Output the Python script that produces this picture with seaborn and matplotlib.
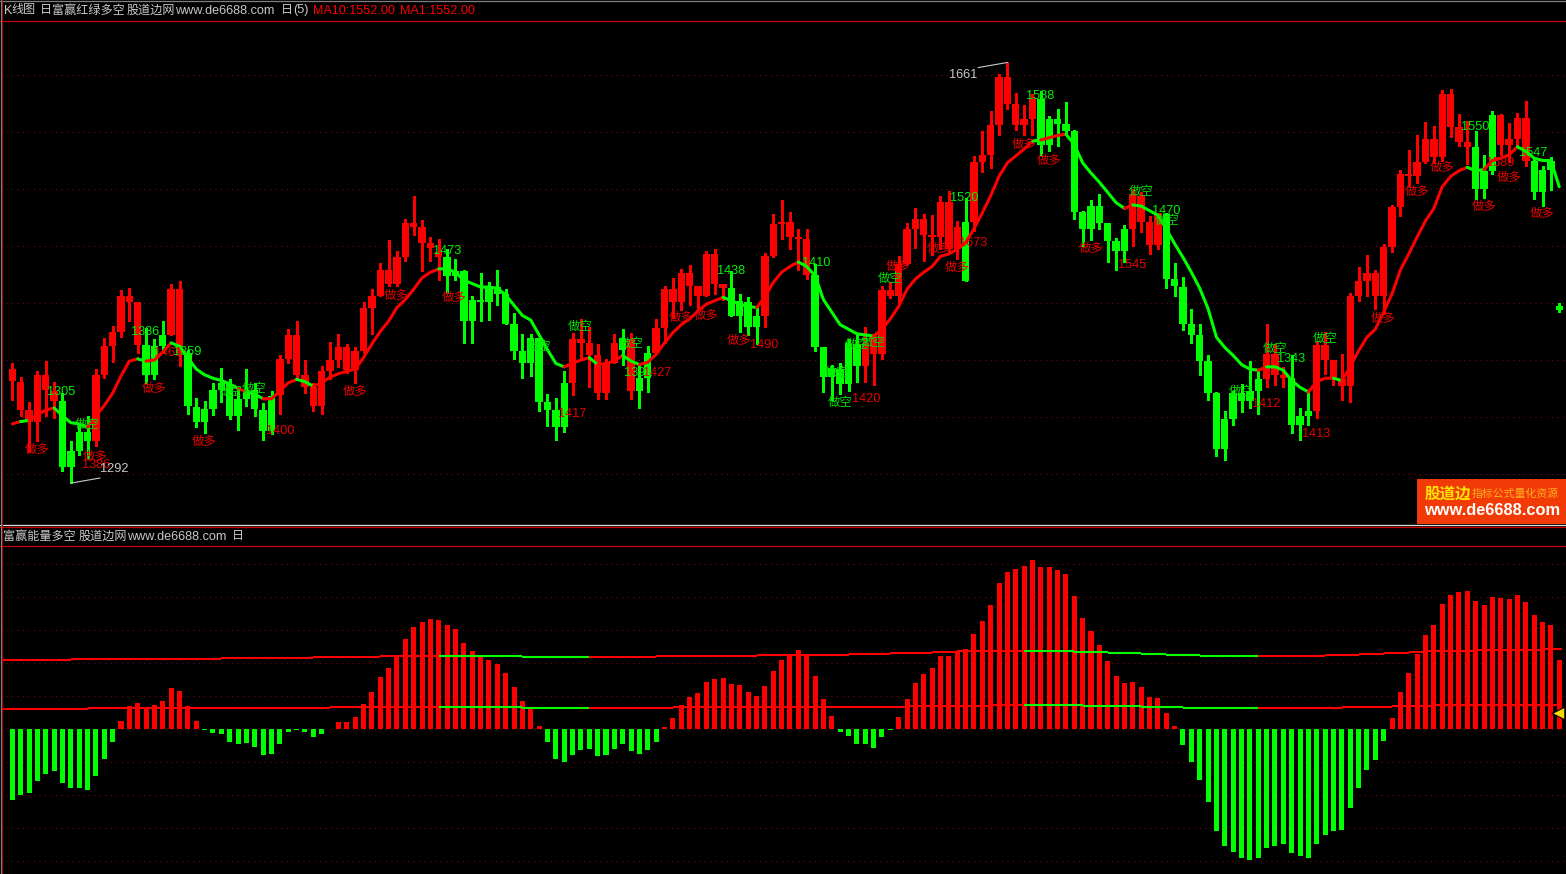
import matplotlib
matplotlib.use('Agg')
import matplotlib.pyplot as plt
from matplotlib.lines import Line2D
from matplotlib.patches import Rectangle
import numpy as np
import pandas as pd
import seaborn as sns

# candles (gridlines are 50 points apart)
body_top = [
    1392, 1381, 1356, 1387, 1387, 1373, 1364, 1320, 1337, 1337,
    1387, 1412, 1425, 1456, 1456, 1451, 1413, 1412, 1422, 1462,
    1462, 1406, 1359, 1357, 1374, 1380, 1379, 1366, 1374, 1374,
    1356, 1368, 1401, 1422, 1422, 1387, 1376, 1390, 1400, 1411,
    1411, 1408, 1446, 1456, 1479, 1479, 1490, 1520, 1520, 1517,
    1503, 1495, 1490, 1478, 1478, 1453, 1453, 1465, 1464, 1458,
    1432, 1408, 1419, 1419, 1363, 1356, 1380, 1418, 1418, 1415,
    1404, 1397, 1415, 1419, 1418, 1384, 1406, 1428, 1462, 1462,
    1476, 1476, 1465, 1493, 1493, 1467, 1463, 1452, 1451, 1439,
    1491, 1519, 1521, 1521, 1508, 1506, 1475, 1411, 1393, 1392,
    1415, 1414, 1415, 1422, 1461, 1461, 1484, 1515, 1524, 1524,
    1510, 1539, 1539, 1517, 1521, 1574, 1580, 1606, 1648, 1648,
    1625, 1611, 1630, 1629, 1611, 1611, 1607, 1601, 1530, 1535,
    1535, 1520, 1504, 1515, 1546, 1544, 1521, 1529, 1528, 1471,
    1464, 1432, 1422, 1399, 1371, 1348, 1371, 1371, 1373, 1383,
    1405, 1405, 1387, 1384, 1351, 1355, 1413, 1413, 1400, 1383,
    1456, 1469, 1476, 1476, 1499, 1534, 1563, 1563, 1574, 1594,
    1594, 1633, 1633, 1604, 1591, 1587, 1566, 1615, 1615, 1594,
    1612, 1612, 1575, 1567, 1575, 1447,
]
body_bottom = [
    1382, 1356, 1346, 1346, 1374, 1364, 1306, 1306, 1320, 1329,
    1329, 1387, 1412, 1425, 1451, 1413, 1387, 1387, 1412, 1422,
    1406, 1360, 1346, 1346, 1357, 1374, 1351, 1351, 1366, 1357,
    1338, 1338, 1369, 1401, 1387, 1376, 1360, 1360, 1390, 1400,
    1391, 1391, 1408, 1446, 1456, 1467, 1467, 1490, 1517, 1503,
    1498, 1490, 1474, 1474, 1434, 1434, 1451, 1451, 1458, 1432,
    1408, 1397, 1397, 1363, 1356, 1341, 1341, 1380, 1415, 1404,
    1371, 1371, 1397, 1409, 1373, 1373, 1384, 1406, 1428, 1451,
    1451, 1465, 1456, 1456, 1467, 1463, 1439, 1439, 1429, 1429,
    1439, 1491, 1519, 1508, 1506, 1475, 1411, 1385, 1385, 1379,
    1379, 1395, 1395, 1405, 1405, 1456, 1456, 1484, 1515, 1510,
    1508, 1508, 1497, 1497, 1469, 1521, 1574, 1580, 1606, 1625,
    1606, 1606, 1611, 1589, 1589, 1607, 1601, 1530, 1515, 1515,
    1520, 1504, 1496, 1496, 1515, 1521, 1501, 1501, 1471, 1465,
    1432, 1422, 1399, 1371, 1322, 1322, 1348, 1364, 1364, 1373,
    1383, 1387, 1384, 1343, 1343, 1351, 1355, 1400, 1383, 1377,
    1377, 1456, 1469, 1456, 1456, 1499, 1534, 1561, 1561, 1574,
    1578, 1578, 1604, 1591, 1587, 1550, 1550, 1566, 1589, 1589,
    1594, 1575, 1547, 1547, 1567, 1444,
]
high = [
    1397, 1385, 1363, 1390, 1399, 1381, 1371, 1329, 1345, 1351,
    1392, 1419, 1430, 1461, 1463, 1451, 1428, 1418, 1434, 1467,
    1469, 1409, 1367, 1364, 1380, 1393, 1383, 1374, 1392, 1380,
    1362, 1373, 1404, 1427, 1434, 1400, 1380, 1395, 1416, 1423,
    1414, 1411, 1451, 1462, 1485, 1505, 1496, 1524, 1544, 1523,
    1508, 1506, 1497, 1489, 1479, 1456, 1476, 1468, 1479, 1462,
    1441, 1423, 1423, 1419, 1370, 1367, 1390, 1424, 1436, 1429,
    1414, 1401, 1423, 1427, 1424, 1396, 1412, 1436, 1465, 1472,
    1480, 1483, 1465, 1496, 1497, 1467, 1478, 1458, 1455, 1447,
    1494, 1528, 1540, 1530, 1515, 1515, 1484, 1411, 1396, 1397,
    1418, 1423, 1429, 1423, 1465, 1468, 1491, 1520, 1533, 1528,
    1527, 1544, 1548, 1522, 1542, 1579, 1601, 1618, 1651, 1661,
    1634, 1624, 1633, 1636, 1614, 1620, 1626, 1602, 1531, 1540,
    1546, 1520, 1507, 1518, 1550, 1547, 1526, 1529, 1529, 1485,
    1473, 1445, 1432, 1404, 1372, 1355, 1373, 1379, 1399, 1391,
    1432, 1414, 1394, 1404, 1358, 1373, 1417, 1425, 1400, 1405,
    1459, 1482, 1492, 1479, 1502, 1536, 1567, 1584, 1597, 1609,
    1605, 1637, 1638, 1616, 1610, 1601, 1580, 1618, 1616, 1608,
    1617, 1627, 1578, 1570, 1578, 1450,
]
low = [
    1365, 1351, 1319, 1329, 1351, 1349, 1303, 1292, 1317, 1313,
    1325, 1384, 1398, 1420, 1434, 1406, 1380, 1383, 1406, 1422,
    1395, 1353, 1341, 1336, 1352, 1363, 1348, 1339, 1360, 1351,
    1330, 1335, 1353, 1397, 1383, 1371, 1355, 1353, 1383, 1394,
    1389, 1380, 1406, 1423, 1456, 1465, 1465, 1487, 1510, 1478,
    1487, 1470, 1459, 1470, 1415, 1415, 1434, 1435, 1448, 1432,
    1401, 1384, 1386, 1355, 1342, 1330, 1337, 1369, 1402, 1376,
    1366, 1366, 1397, 1396, 1366, 1358, 1372, 1406, 1415, 1437,
    1444, 1448, 1446, 1456, 1458, 1453, 1439, 1425, 1422, 1414,
    1429, 1490, 1506, 1497, 1479, 1471, 1408, 1372, 1365, 1370,
    1373, 1381, 1381, 1378, 1401, 1454, 1448, 1484, 1498, 1487,
    1492, 1497, 1495, 1489, 1469, 1513, 1565, 1568, 1597, 1620,
    1602, 1597, 1597, 1580, 1583, 1588, 1599, 1524, 1500, 1505,
    1515, 1486, 1479, 1486, 1500, 1512, 1493, 1497, 1463, 1456,
    1426, 1415, 1387, 1365, 1316, 1312, 1343, 1354, 1358, 1353,
    1376, 1378, 1376, 1336, 1330, 1343, 1349, 1388, 1378, 1365,
    1363, 1452, 1456, 1445, 1441, 1495, 1526, 1553, 1555, 1573,
    1573, 1575, 1596, 1588, 1572, 1541, 1542, 1563, 1580, 1574,
    1586, 1570, 1541, 1535, 1549, 1442,
]
# (first, last) candle of each green run
green_candles = [(6, 9), (16, 18), (21, 31), (52, 66), (73, 73), (75, 76), (86, 89),
                 (96, 101), (114, 114), (123, 133), (138, 149), (153, 155),
                 (175, 177), (182, 185)]

ma_line = [
    1344, 1346, 1347, 1352, 1356, 1358, 1351, 1345, 1344, 1341,
    1351, 1360, 1371, 1386, 1399, 1401, 1399, 1400, 1407, 1415,
    1412, 1402, 1392, 1387, 1384, 1382, 1379, 1375, 1372, 1370,
    1366, 1366, 1373, 1380, 1383, 1381, 1377, 1380, 1385, 1388,
    1390, 1392, 1402, 1414, 1425, 1434, 1446, 1453, 1462, 1472,
    1477, 1480, 1480, 1477, 1470, 1467, 1464, 1464, 1463, 1457,
    1448, 1439, 1435, 1422, 1409, 1397, 1394, 1397, 1400, 1402,
    1396, 1397, 1399, 1404, 1399, 1396, 1398, 1405, 1415, 1424,
    1431, 1436, 1443, 1449, 1452, 1455, 1452, 1449, 1447, 1446,
    1455, 1468, 1477, 1482, 1486, 1482, 1474, 1453, 1442, 1431,
    1427, 1423, 1422, 1421, 1427, 1436, 1447, 1462, 1471, 1477,
    1482, 1491, 1493, 1497, 1503, 1515, 1529, 1544, 1561, 1573,
    1579, 1585, 1592, 1593, 1595, 1597, 1598, 1589, 1573, 1564,
    1556, 1547, 1538, 1533, 1536, 1535, 1531, 1527, 1515, 1502,
    1490, 1477, 1463, 1445, 1420, 1411, 1404, 1396, 1392, 1391,
    1394, 1394, 1391, 1382, 1376, 1372, 1381, 1384, 1384, 1382,
    1394, 1408, 1420, 1427, 1442, 1458, 1479, 1493, 1508, 1522,
    1533, 1552, 1561, 1566, 1569, 1566, 1567, 1575, 1577, 1580,
    1587, 1583, 1577, 1575, 1575, 1552,
]
ma_green_runs = [(1, 2), (5, 9), (15, 16), (19, 27), (28, 30), (34, 36), (51, 66), (69, 70),
                 (73, 75), (85, 89), (94, 103), (122, 123), (126, 133), (134, 149),
                 (150, 155), (158, 159), (174, 176), (180, 185)]

# energy bars, lower panel (gridlines are 10 units apart)
energy = [
    -21.5, -20, -19.4, -15.8, -13.6, -12.7, -16.4, -17.9, -17.9, -18.5,
    -14.2, -9.1, -3.9, 2.4, 7, 7.9, 6.7, 7.3, 8.5, 12.4,
    11.5, 7, 2.4, -0.2, -1.2, -1.5, -3.9, -4.5, -4.2, -5.5,
    -7.9, -7.6, -4.5, -0.9, -0.2, -0.9, -2.4, -1.5, 0.1, 2.1,
    2.1, 3.6, 7.6, 11.2, 15.8, 18.5, 22.1, 27.3, 30.9, 32.4,
    33.3, 33, 31.5, 30.3, 26, 23.6, 21.8, 20.9, 19.7, 17,
    12.7, 8.5, 6.1, 0.9, -3.9, -9.1, -10, -7.9, -6.4, -6.1,
    -8.2, -7.9, -6.1, -4.5, -6.7, -7.6, -6.4, -3.9, 0.6, 3.3,
    7.3, 9.7, 10.9, 14.2, 15.2, 15.5, 13.6, 13.3, 11.2, 10,
    13, 17.6, 20.9, 22.4, 23.9, 22.7, 16.1, 9.1, 3.9, -0.9,
    -2.1, -4.5, -4.5, -5.8, -2.4, -0.2, 3.6, 9.1, 13.9, 16.7,
    18.5, 22.1, 22.1, 23.3, 24.2, 28.8, 32.7, 37.6, 44.2, 47.6,
    48.5, 49.4, 51.2, 49.1, 49, 48.2, 47, 40.3, 33.6, 29.7,
    25.5, 20.6, 16.1, 13.9, 14.2, 12.7, 9.7, 9.4, 4.8, 0.9,
    -4.8, -10, -15.5, -22.1, -30.9, -35.5, -37.3, -39.1, -39.7, -39.1,
    -36.1, -35.5, -34.8, -37.6, -38.5, -39.1, -34.8, -32.1, -30.9, -30.6,
    -23.9, -17.9, -12.4, -9.4, -3.6, 3.3, 11.2, 17, 22.7, 28.5,
    31.5, 37.9, 40.6, 41.5, 41.8, 38.8, 37.6, 40, 39.7, 39.4,
    40.6, 38.5, 34.5, 32.4, 31.5, 20.9,
]
# stepped reference lines: (first bar, level)
upper_steps = [(-1.1, 21.0), (7, 21.3), (25, 21.6), (36, 21.9), (44, 22.2), (61, 21.9), (77, 22.2),
               (89, 22.5), (100, 22.8), (105, 23.1), (110, 23.4), (113, 23.7), (127, 23.4),
               (131, 23.1), (135, 22.8), (138, 22.5), (142, 22.2), (157, 22.5), (161, 22.8),
               (164, 23.1), (167, 23.4), (169, 23.7), (175, 24.0), (183, 24.3)]
lower_steps = [(-1.1, 6.06), (9, 6.36), (38, 6.67), (61, 6.46), (79, 6.77), (107, 7.07), (117, 7.37),
               (128, 6.97), (135, 6.67), (140, 6.36), (159, 6.67), (165, 6.97), (170, 7.37)]
ref_green_runs = [(51, 69), (121, 149)]

# labels in the price panel: (text, candle, price)
green_numbers = [('1305', 5.9, 1372), ('1386', 15.9, 1425), ('1359', 20.9, 1407), ('1473', 52, 1496),
                 ('1438', 85.9, 1478), ('1410', 96.1, 1485), ('1520', 113.9, 1542), ('1588', 122.9, 1632),
                 ('1470', 138, 1531), ('1343', 152.9, 1401), ('1550', 174.9, 1604), ('1547', 181.9, 1582),
                 ('1391', 74.8, 1389)]
red_numbers = [('1386', 10, 1308), ('1461', 18.6, 1406), ('1400', 32, 1338), ('1417', 67, 1353),
               ('1427', 77.1, 1389), ('1490', 89.9, 1413), ('1420', 102.1, 1366), ('1673', 114.9, 1503),
               ('1545', 133.9, 1483), ('1412', 150, 1361), ('1413', 155.9, 1335), ('1589', 177.9, 1573)]
white_numbers = [('1661', 113.7, 1650), ('1292', 12.2, 1304)]
long_signals = [(3, 1321), (9.9, 1315), (17, 1375), (22.9, 1328), (45.9, 1456), (41, 1372), (52.9, 1454),
                (80, 1437), (83, 1439), (86.9, 1417), (105.9, 1482), (110.9, 1497), (113, 1481),
                (121, 1589), (124, 1575), (129, 1497), (168, 1547), (163.9, 1436), (171, 1568),
                (176, 1534), (179, 1560), (182.9, 1528)]
short_signals = [(8.9, 1343), (26, 1372), (28.9, 1375), (67.9, 1429), (74, 1414), (63, 1411), (105, 1471),
                 (101, 1413), (103, 1415), (99, 1362), (98.6, 1389), (135, 1547), (138.1, 1522),
                 (151, 1410), (157, 1418), (147, 1372)]

price_grid = [1650, 1600, 1550, 1500, 1450, 1400, 1350, 1300]
energy_grid = [50, 40, 30, 20, 10, 0, -10, -20, -30, -40]

RED = '#ff0000'
GREEN = '#00ff00'
GRID = '#8c0000'
GREY = '#c8c8c8'
FONT = ['Liberation Sans', 'Noto Sans CJK SC', 'DejaVu Sans']
W, H = 1566, 874

sns.set_theme(style='dark', rc={'axes.facecolor': 'black', 'figure.facecolor': 'black'})
plt.rcParams['font.family'] = FONT


def px_axes(fig, left, top, right, bottom):
    ax = fig.add_axes([left / W, 1 - bottom / H, (right - left) / W, (bottom - top) / H])
    ax.set_facecolor('black')
    ax.set_axis_off()
    return ax


def fig_text(fig, x, y, s, color=GREY, size=9.1, **kw):
    fig.text(x / W, 1 - y / H, s, color=color, fontsize=size, va='center', ha=kw.pop('ha', 'left'),
             family=FONT, **kw)


def draw_grid(ax, levels):
    ax.hlines(levels, -0.8, 186, colors=GRID, linewidth=0.72, linestyles=(0, (1, 4.5)), zorder=1)


fig = plt.figure(figsize=(W / 100, H / 100), dpi=100, facecolor='black')

# price panel
ax = px_axes(fig, 3, 21, 1566, 525)
candles = pd.DataFrame({'top': body_top, 'bottom': body_bottom, 'high': high, 'low': low})
candles['idx'] = np.arange(len(candles))
candles['color'] = RED
for first, last in green_candles:
    candles.loc[first:last, 'color'] = GREEN

draw_grid(ax, price_grid)
ax.vlines(candles['idx'], candles['low'], candles['high'], colors=candles['color'],
          linewidth=0.8, antialiased=False, zorder=2)
ax.bar(candles['idx'], candles['top'] - candles['bottom'], bottom=candles['bottom'], width=0.88,
       color=candles['color'], linewidth=0, antialiased=False, zorder=3)

# the line changes colour run by run
is_green = np.zeros(len(ma_line) - 1, dtype=bool)
for first, last in ma_green_runs:
    is_green[first:last] = True
start = 0
for i in range(1, len(is_green) + 1):
    if i == len(is_green) or is_green[i] != is_green[start]:
        sns.lineplot(x=list(range(start, i + 1)), y=ma_line[start:i + 1], ax=ax,
                     color=GREEN if is_green[start] else RED, linewidth=2.2,
                     estimator=None, sort=False, errorbar=None, zorder=4, solid_capstyle='round')
        start = i

for labels, color in [(green_numbers, '#00f000'), (red_numbers, '#e80000'), (white_numbers, GREY)]:
    for text, idx, price in labels:
        ax.text(idx, price, text, color=color, fontsize=9.2, ha='center', va='center', zorder=6)
for idx, price in long_signals:
    ax.text(idx, price, '做多', color='#e80000', fontsize=8.9, ha='center', va='center', zorder=6)
for idx, price in short_signals:
    ax.text(idx, price, '做空', color='#00e000', fontsize=8.9, ha='center', va='center', zorder=6)

# leader lines to the extreme lows and highs
ax.plot([7, 10.5], [low[7], low[7] + 4.5], color=GREY, linewidth=0.8, zorder=5)
ax.plot([119, 115.5], [high[119], high[119] - 4.5], color=GREY, linewidth=0.8, zorder=5)

ax.set_xlim((3 - 12.3) / 8.362, (1566 - 12.3) / 8.362)
ax.set_ylim(1300 + (474 - 525) * 50 / 57, 1300 + (474 - 21) * 50 / 57)

# energy panel
ax2 = px_axes(fig, 3, 547, 1566, 874)
draw_grid(ax2, energy_grid)
bars = pd.DataFrame({'idx': np.arange(len(energy)), 'value': energy})
bars['side'] = np.where(bars['value'] > 0, 'up', 'down')
sns.barplot(data=bars, x='idx', y='value', hue='side', palette={'up': RED, 'down': GREEN},
            native_scale=True, dodge=False, width=0.6, saturation=1, linewidth=0,
            legend=False, ax=ax2, zorder=3)
ax2.set_axis_off()

for steps in (upper_steps, lower_steps):
    ends = [s[0] for s in steps[1:]] + [185.3]
    for (first, level), end in zip(steps, ends):
        ax2.hlines(level, first, end, colors=RED, linewidth=1.5, zorder=4)
        for a, b in ref_green_runs:
            if min(end, b) > max(first, a):
                ax2.hlines(level, max(first, a), min(end, b), colors=GREEN, linewidth=1.5, zorder=5)

ax2.scatter([184.9], [4.8], marker='<', s=85, color='#f5d800', edgecolors='black', linewidths=0.9, zorder=7)
ax2.set_xlim((3 - 12.3) / 8.362, (1566 - 12.3) / 8.362)
ax2.set_ylim((729 - 874) / 3.3, (729 - 547) / 3.3)

# frame lines
for y, color in [(0.5, '#808080'), (20.5, '#c80000'), (525, '#e0e0e0'), (527, '#c80000'), (546, '#c80000')]:
    fig.add_artist(Line2D([0, 1], [1 - y / H, 1 - y / H], color=color, linewidth=0.9))
fig.add_artist(Line2D([2 / W, 2 / W], [0, 1], color='#b00000', linewidth=1.4))
fig.add_artist(Line2D([0.5 / W, 0.5 / W], [0, 1], color='#808080', linewidth=0.8))

# header rows
fig_text(fig, 4, 10.5, 'K', size=9.1)
fig_text(fig, 11, 10.5, '线图', size=8.7)
fig_text(fig, 40, 10.5, '日', size=8.7)
fig_text(fig, 52, 10.5, '富赢红绿多空', size=8.7)
fig_text(fig, 127, 10.5, '股道边网', size=8.7)
fig_text(fig, 175, 10.5, 'www.de6688.com')
fig_text(fig, 281, 10.5, '日', size=8.7)
fig_text(fig, 293, 10.5, '(5)')
fig_text(fig, 313, 10.5, 'MA10:1552.00', color=RED)
fig_text(fig, 400, 10.5, 'MA1:1552.00', color=RED)
fig_text(fig, 3, 536.5, '富赢能量多空', size=8.7)
fig_text(fig, 79, 536.5, '股道边网', size=8.7)
fig_text(fig, 127, 536.5, 'www.de6688.com')
fig_text(fig, 232, 536.5, '日', size=8.7)

# site badge
fig.add_artist(Rectangle((1417 / W, 1 - 524 / H), 149 / W, 45 / H, transform=fig.transFigure,
                         facecolor='#f23a06', edgecolor='none', zorder=8))
fig.text(1425 / W, 1 - 494 / H, '股道边', color='#ffe800', fontsize=11.2, fontweight='bold', va='center',
         family=['Noto Sans CJK SC', 'DejaVu Sans'], zorder=9)
fig.text(1472 / W, 1 - 494 / H, '指标公式量化资源', color='#ffb020', fontsize=7.8, va='center',
         family=['Noto Sans CJK SC', 'DejaVu Sans'], zorder=9)
fig.text(1424 / W, 1 - 510.5 / H, 'www.de6688.com', color='white', fontsize=11.8, fontweight='bold',
         va='center', family=['Liberation Sans'], zorder=9)

fig.savefig('out.png', dpi=100, facecolor='black')
